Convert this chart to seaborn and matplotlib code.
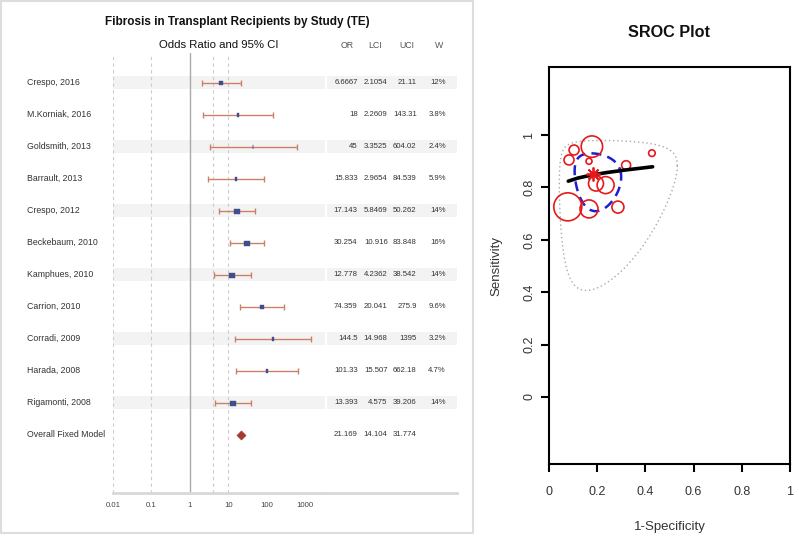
import numpy as np
import matplotlib
matplotlib.use("Agg")
import matplotlib.pyplot as plt
import seaborn as sns
from matplotlib.patches import Rectangle
from matplotlib.transforms import blended_transform_factory

sns.set_style("white")
plt.rcParams['font.family'] = ['Liberation Sans', 'DejaVu Sans']

# forest plot data
studies = ["Crespo, 2016", "M.Korniak, 2016", "Goldsmith, 2013", "Barrault, 2013",
           "Crespo, 2012", "Beckebaum, 2010", "Kamphues, 2010", "Carrion, 2010",
           "Corradi, 2009", "Harada, 2008", "Rigamonti, 2008"]
odds = [6.6667, 18, 45, 15.833, 17.143, 30.254, 12.778, 74.359, 144.5, 101.33, 13.393]
lci = [2.1054, 2.2609, 3.3525, 2.9654, 5.8469, 10.916, 4.2362, 20.041, 14.968, 15.507, 4.575]
uci = [21.11, 143.31, 604.02, 84.539, 50.262, 83.848, 38.542, 275.9, 1395, 662.18, 39.206]
weights = [12, 3.8, 2.4, 5.9, 14, 16, 14, 9.6, 3.2, 4.7, 14]
overall_label = "Overall Fixed Model"
overall = [21.169, 14.104, 31.774]
x_ticks = [0.01, 0.1, 1, 10, 100, 1000]
x_labels = ["0.01", "0.1", "1", "10", "100", "1000"]

# SROC data
sroc_fpr = [0.078, 0.166, 0.286, 0.178, 0.104, 0.083, 0.166, 0.320, 0.427, 0.195, 0.235]
sroc_sens = [0.726, 0.718, 0.725, 0.956, 0.943, 0.905, 0.900, 0.885, 0.931, 0.815, 0.809]
sroc_weight = [14, 9, 6, 10.7, 5, 5, 3, 4.5, 3.3, 7.5, 8.5]
summary_fpr, summary_sens = 0.184, 0.851
curve_fpr = [0.080, 0.12, 0.18, 0.24, 0.32, 0.43]
curve_sens = [0.824, 0.836, 0.848, 0.857, 0.867, 0.879]
# ellipses in logit space: (sd fpr, sd sens, correlation)
conf_region = (0.64, 0.85, -0.1)
pred_region = (1.62, 2.12, 0.13)

W, H = 799, 539
fig = plt.figure(figsize=(W / 100, H / 100), dpi=100)


def fx(px):
    return px / W


def fy(py):
    return 1 - py / H


fig.add_artist(Rectangle((fx(1), fy(533)), 472 / W, 532 / H, transform=fig.transFigure,
                         fill=False, edgecolor="#DDDDDD", lw=1.5))

fig.text(fx(237.5), fy(22), "Fibrosis in Transplant Recipients by Study (TE)",
         ha="center", va="center", fontsize=8.5, fontweight="bold", color="#111111")
fig.text(fx(218.7), fy(45), "Odds Ratio and 95% CI", ha="center", va="center",
         fontsize=8.2, color="#111111")
for lab, px in zip(["OR", "LCI", "UCI", "W"], [346.7, 375, 406.7, 439]):
    fig.text(fx(px), fy(45), lab, ha="center", va="center", fontsize=6.3, color="#555555")

ylim = (12.816, -0.925)
ax = fig.add_axes([fx(113), fy(492.7), 212 / W, (492.7 - 53) / H])
axt = fig.add_axes([fx(327), fy(492.7), 130 / W, (492.7 - 53) / H])

n = len(studies)
rows = np.arange(n)
for a in (ax, axt):
    for i in range(0, n, 2):
        a.axhspan(i - 0.21, i + 0.21, color="#F3F3F3", zorder=0, lw=0)
    a.set_ylim(ylim)
    for s in ["top", "left", "right"]:
        a.spines[s].set_visible(False)
    a.spines["bottom"].set_color("#D8D8D8")
    a.spines["bottom"].set_linewidth(2)
    a.set_yticks([])

ax.set_xscale("log")
ax.set_xlim(0.01, 10 ** 3.52)
for v in [0.01, 0.1, 4, 10]:
    ax.axvline(v, color="#CCCCCC", ls=(0, (3, 3)), lw=0.8, zorder=1)
ax.axvline(1, color="#AAAAAA", lw=1, zorder=1)
ax.set_xticks(x_ticks)
ax.set_xticklabels(x_labels)
ax.minorticks_off()
ax.tick_params(axis="x", direction="inout", length=5, color="#CCCCCC", labelsize=5.6,
               labelcolor="#444444", pad=4)

odds_a = np.array(odds)
ax.errorbar(odds_a, rows, xerr=[odds_a - np.array(lci), np.array(uci) - odds_a], fmt="none",
            ecolor="#CC8066", elinewidth=1, capsize=2.5, capthick=1, zorder=2)
for i, (o, w) in enumerate(zip(odds, weights)):
    wpx = min(0.4 * w, 5.4)
    hpx = 5.0
    verts = [(-wpx, -hpx), (wpx, -hpx), (wpx, hpx), (-wpx, hpx), (-wpx, -hpx)]
    ax.plot(o, i, marker=verts, ms=max(wpx, hpx) * 0.72, color="#3F4E8E", mew=0.3, zorder=3)
sns.scatterplot(x=[overall[0]], y=[n], marker="D", s=22, color="#A33A2E", edgecolor="#A33A2E",
                ax=ax, zorder=3)
ax.set_ylim(ylim)
ax.set_xlabel("")
ax.set_ylabel("")

trans = blended_transform_factory(ax.transAxes, ax.transData)
for i, name in enumerate(studies + [overall_label]):
    ax.text((26.7 - 113) / 212, i, name, transform=trans, ha="left", va="center",
            fontsize=6.3, color="#333333")

axt.set_xlim(327, 457)
axt.set_xticks([])
for i in range(n + 1):
    if i < n:
        vals = [odds[i], lci[i], uci[i]]
        wtxt = f"{weights[i]:g}%"
    else:
        vals = overall
        wtxt = ""
    for v, px in zip(vals, [357.7, 387.7, 416.7]):
        axt.text(px, i, f"{v:g}", ha="right", va="center", fontsize=5.6, color="#333333")
    axt.text(446, i, wtxt, ha="right", va="center", fontsize=5.6, color="#333333")

# SROC panel
ax2 = fig.add_axes([fx(549), fy(464), 241 / W, 397 / H])
cx, cy = np.log(summary_fpr / (1 - summary_fpr)), np.log(summary_sens / (1 - summary_sens))
t = np.linspace(0, 2 * np.pi, 300)


def region(par):
    sx, sy, rho = par
    lx = cx + sx * np.cos(t)
    ly = cy + sy * (rho * np.cos(t) + np.sqrt(1 - rho ** 2) * np.sin(t))
    return 1 / (1 + np.exp(-lx)), 1 / (1 + np.exp(-ly))


px_, py_ = region(pred_region)
ax2.plot(px_, py_, color="#AAAAAA", ls=(0, (1, 2)), lw=1)
ex, ey = region(conf_region)
ax2.plot(ex, ey, color="#1F1FD0", ls=(0, (4, 2.5)), lw=1.8)

sizes = [(2 * r * 0.72) ** 2 for r in sroc_weight]
sns.scatterplot(x=sroc_fpr, y=sroc_sens, s=sizes, ax=ax2, zorder=3)
pts = ax2.collections[-1]
pts.set_facecolor("none")
pts.set_edgecolor("#E41A1C")
pts.set_linewidth(1.2)

sns.lineplot(x=curve_fpr, y=curve_sens, color="black", lw=2.6, sort=False, ax=ax2, zorder=4)
ax2.plot(summary_fpr, summary_sens, marker=(8, 2, 0), ms=10, mew=1.3, color="#E41A1C", zorder=5)

ax2.set_xlim(0, 1)
ax2.set_ylim(-0.256, 1.26)
ticks = [0, 0.2, 0.4, 0.6, 0.8, 1]
tlabs = ["0", "0.2", "0.4", "0.6", "0.8", "1"]
ax2.set_xticks(ticks)
ax2.set_xticklabels(tlabs)
ax2.set_yticks(ticks)
ax2.set_yticklabels(tlabs, rotation=90, va="center")
for s in ax2.spines.values():
    s.set_color("black")
    s.set_linewidth(1.5)
ax2.tick_params(axis="both", direction="out", length=6, width=1.5, color="black",
                labelsize=9, labelcolor="#333333", left=True, bottom=True)
ax2.tick_params(axis="x", pad=10)
ax2.tick_params(axis="y", pad=4)
ax2.set_xlabel("1-Specificity", fontsize=9.5, color="#333333")
ax2.set_ylabel("Sensitivity", fontsize=9.5, color="#333333")
ax2.xaxis.set_label_coords(0.5, -(521 - 464) / 397)
ax2.yaxis.set_label_coords((502 - 549) / 241, 0.5)
ax2.set_title("SROC Plot", fontsize=11.7, fontweight="bold", color="#111111", pad=0,
              y=1 + (67 - 31) / 397 - 0.015)

fig.savefig("out.png", dpi=100)
